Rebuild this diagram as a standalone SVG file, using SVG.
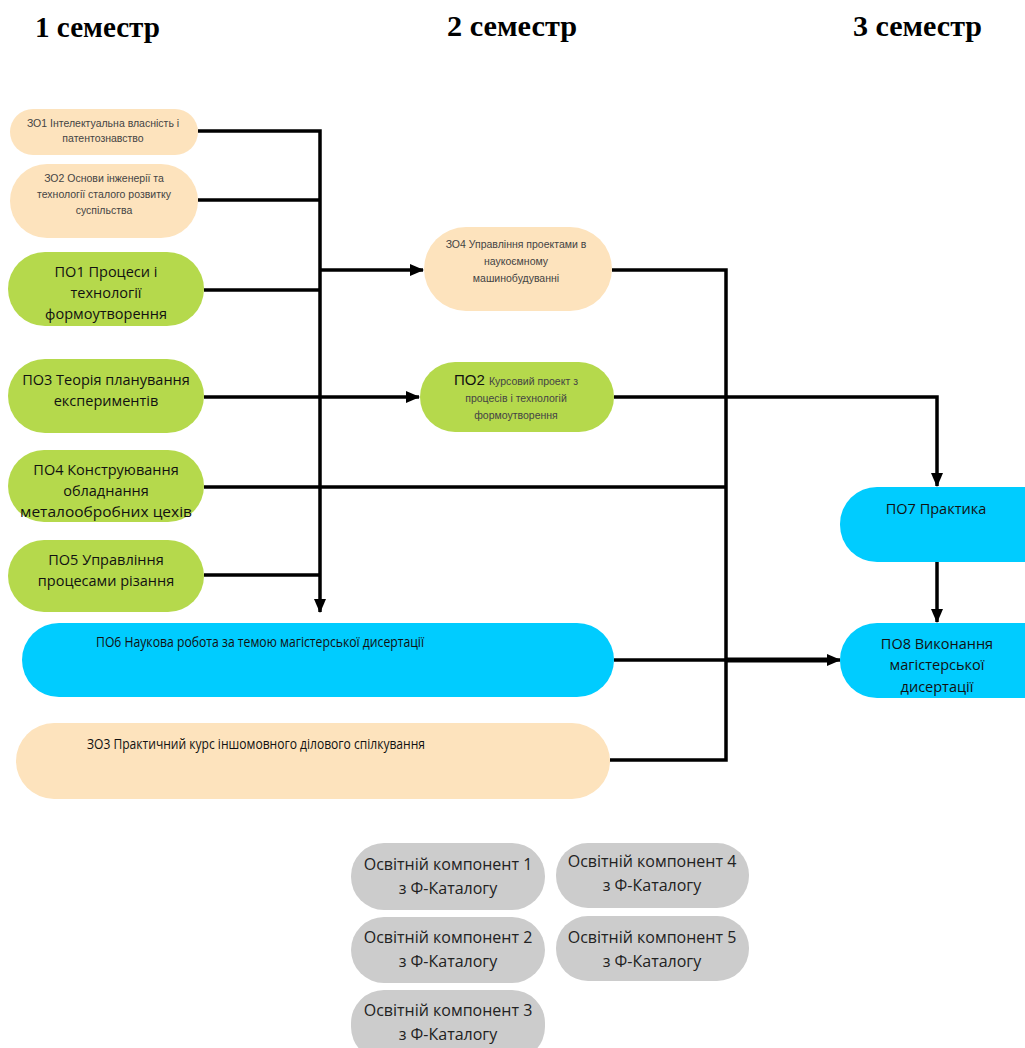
<svg xmlns="http://www.w3.org/2000/svg" width="1025" height="1048" viewBox="0 0 1025 1048">
<defs>
<marker id="ah" markerUnits="userSpaceOnUse" markerWidth="14" markerHeight="14" viewBox="0 0 14 14" refX="13" refY="7" orient="auto"><path d="M0,1 L14,7 L0,13 Z" fill="#000"/></marker>
<style>
.t{font-family:"Liberation Serif",serif;font-weight:bold;font-size:29px;fill:#000}
.peach{fill:#FDE3BD}
.green{fill:#B5D94C}
.blue{fill:#00CCFF}
.grey{fill:#CCCCCC}
.s{font-family:"Liberation Sans","DejaVu Sans",sans-serif;font-size:10.5px;fill:#444;text-anchor:middle}
.m{font-family:"Open Sans","DejaVu Sans",sans-serif;font-size:14.5px;fill:#111;text-anchor:middle}
.g{font-family:"Open Sans","DejaVu Sans",sans-serif;font-size:16px;fill:#222;text-anchor:middle}
.c{fill:none;stroke:#000;stroke-width:3.5}
</style>
</defs>
<rect width="1025" height="1048" fill="#fff"/>
<text class="t" x="35" y="37" textLength="125" lengthAdjust="spacingAndGlyphs">1 семестр</text>
<text class="t" x="447" y="36" textLength="130" lengthAdjust="spacingAndGlyphs">2 семестр</text>
<text class="t" x="853" y="36" textLength="129" lengthAdjust="spacingAndGlyphs">3 семестр</text>

<g id="connectors">
<path class="c" d="M198,131 H320 V612" marker-end="url(#ah)"/>
<path class="c" d="M198,200 H320"/>
<path class="c" d="M204,290 H320"/>
<path class="c" d="M320,270 H423" marker-end="url(#ah)"/>
<path class="c" d="M204,397 H419" marker-end="url(#ah)"/>
<path class="c" d="M204,487 H726"/>
<path class="c" d="M204,575 H320"/>
<path class="c" d="M612,270 H726 V760 H610"/>
<path class="c" d="M614,397 H937 V486" marker-end="url(#ah)"/>
<path class="c" d="M937,562 V622" marker-end="url(#ah)"/>
<path class="c" d="M614,660 H840" marker-end="url(#ah)"/>
<path fill="none" stroke="#000" stroke-width="5" d="M726,660 H828"/>
</g>

<g id="zo1"><rect class="peach" x="10" y="109" width="188" height="46" rx="23"/>
<text class="s" x="103" y="127">ЗО1 Інтелектуальна власність і</text>
<text class="s" x="103" y="142">патентознавство</text></g>

<g id="zo2"><rect class="peach" x="10" y="164" width="188" height="74" rx="37"/>
<text class="s" x="104" y="182">ЗО2 Основи інженерії  та</text>
<text class="s" x="104" y="198">технології  сталого розвитку</text>
<text class="s" x="104" y="214">суспільства</text></g>

<g id="po1"><rect class="green" x="8" y="252" width="196" height="74" rx="37"/>
<text class="m" x="106" y="277">ПО1 Процеси і</text>
<text class="m" x="106" y="298">технології</text>
<text class="m" x="106" y="319">формоутворення</text></g>

<g id="po3"><rect class="green" x="8" y="359" width="196" height="74" rx="37"/>
<text class="m" x="106" y="385">ПО3 Теорія планування</text>
<text class="m" x="106" y="406">експериментів</text></g>

<g id="po4"><rect class="green" x="8" y="450" width="196" height="72" rx="36"/>
<text class="m" x="106" y="475">ПО4 Конструювання</text>
<text class="m" x="106" y="496">обладнання</text>
<text class="m" x="106" y="517" textLength="172" lengthAdjust="spacingAndGlyphs">металообробних цехів</text></g>

<g id="po5"><rect class="green" x="8" y="540" width="196" height="72" rx="36"/>
<text class="m" x="106" y="565">ПО5 Управління</text>
<text class="m" x="106" y="586">процесами різання</text></g>

<g id="po6"><rect class="blue" x="22" y="623" width="592" height="74" rx="37"/>
<text class="m" x="260" y="647" textLength="328" lengthAdjust="spacingAndGlyphs">ПО6 Наукова робота за темою магістерської дисертації</text></g>

<g id="zo3"><rect class="peach" x="16" y="723" width="594" height="76" rx="38"/>
<text class="m" x="256" y="749" textLength="338" lengthAdjust="spacingAndGlyphs">ЗО3 Практичний курс іншомовного ділового спілкування</text></g>

<g id="zo4"><rect class="peach" x="424" y="227" width="188" height="84" rx="42"/>
<text class="s" x="516" y="248">ЗО4 Управління проектами в</text>
<text class="s" x="516" y="265">наукоємному</text>
<text class="s" x="516" y="282">машинобудуванні</text></g>

<g id="po2"><rect class="green" x="420" y="362" width="194" height="70" rx="35"/>
<text class="s" x="516" y="385"><tspan font-size="15px" fill="#111">ПО2 </tspan>Курсовий проект з</text>
<text class="s" x="516" y="402">процесів  і технологій</text>
<text class="s" x="516" y="419">формоутворення</text></g>

<g id="po7"><rect class="blue" x="840" y="487" width="230" height="75" rx="37"/>
<text class="m" x="936" y="514">ПО7 Практика</text></g>

<g id="po8"><rect class="blue" x="840" y="623" width="230" height="75" rx="37"/>
<text class="m" x="937" y="649">ПО8 Виконання</text>
<text class="m" x="937" y="670">магістерської</text>
<text class="m" x="937" y="692">дисертації</text></g>

<g id="ok1"><rect class="grey" x="351" y="843" width="194" height="67" rx="33"/>
<text class="g" x="448" y="870">Освітній компонент 1</text>
<text class="g" x="448" y="894">з Ф-Каталогу</text></g>
<g id="ok4"><rect class="grey" x="556" y="843" width="193" height="65" rx="32"/>
<text class="g" x="652" y="867">Освітній компонент 4</text>
<text class="g" x="652" y="891">з Ф-Каталогу</text></g>
<g id="ok2"><rect class="grey" x="351" y="917" width="194" height="66" rx="33"/>
<text class="g" x="448" y="943">Освітній компонент 2</text>
<text class="g" x="448" y="967">з Ф-Каталогу</text></g>
<g id="ok5"><rect class="grey" x="556" y="916" width="193" height="65" rx="32"/>
<text class="g" x="652" y="943">Освітній компонент 5</text>
<text class="g" x="652" y="967">з Ф-Каталогу</text></g>
<g id="ok3"><rect class="grey" x="351" y="990" width="194" height="70" rx="33"/>
<text class="g" x="448" y="1016">Освітній компонент 3</text>
<text class="g" x="448" y="1040">з Ф-Каталогу</text></g>
</svg>
